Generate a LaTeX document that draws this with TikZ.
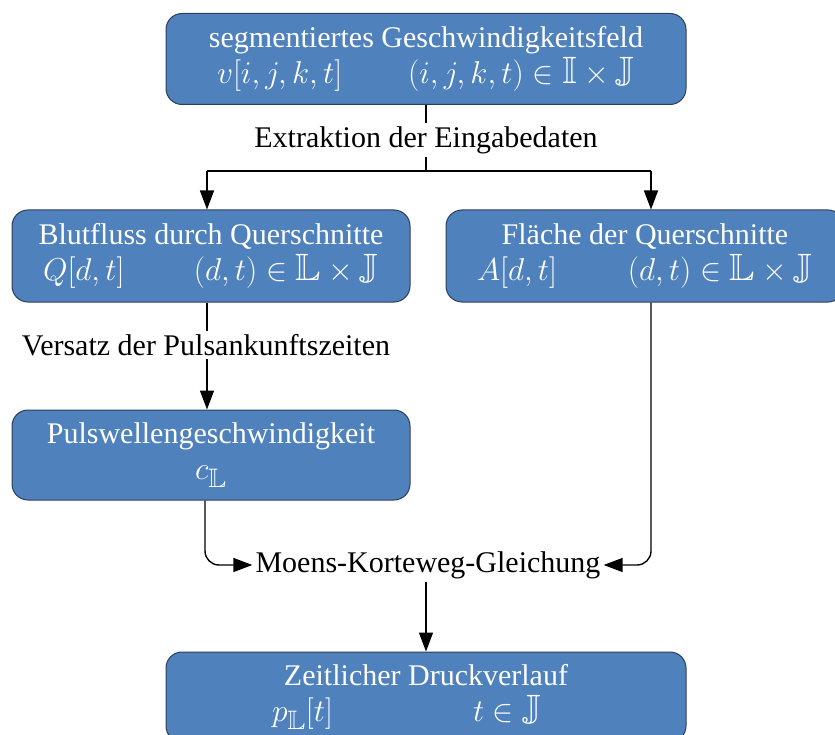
\documentclass[tikz,border=0pt]{standalone}
\usepackage{amssymb}
\usepackage{fontspec}
\setmainfont{Liberation Serif}
\usetikzlibrary{arrows.meta}
\definecolor{boxblue}{RGB}{79,129,189}
\definecolor{boxedge}{RGB}{45,62,90}
\newcommand{\bigmath}[1]{\scalebox{1.27}{$#1$}}
\begin{document}
\begin{tikzpicture}[x=1pt,y=-1pt,
  box/.style={draw=boxedge, line width=1pt, fill=boxblue, rounded corners=16pt,
    text=white, align=center, inner sep=0pt, font=\fontsize{30}{36}\selectfont},
  lbl/.style={font=\fontsize{30}{34}\selectfont, inner sep=3pt},
  conn/.style={line width=1.4pt},
  arr/.style={conn, -{Triangle[length=19pt,width=14pt]}}]
\useasboundingbox (0,0) rectangle (835,735);
\clip (0,0) rectangle (835,735);

\node[box, minimum width=520pt, minimum height=91pt] (top) at (426,59)
  {segmentiertes Geschwindigkeitsfeld\\[0pt]
   \makebox[418pt]{\bigmath{v[i,j,k,t]}\hfill\bigmath{(i,j,k,t)\in\mathbb{I}\times\mathbb{J}}}};

\node[box, minimum width=398pt, minimum height=92pt] (blut) at (211,256)
  {Blutfluss durch Querschnitte\\[0pt]
   \makebox[336pt]{\bigmath{Q[d,t]}\hfill\bigmath{(d,t)\in\mathbb{L}\times\mathbb{J}}}};

\node[box, minimum width=398pt, minimum height=92pt] (flae) at (645,256)
  {Fläche der Querschnitte\\[0pt]
   \makebox[336pt]{\bigmath{A[d,t]}\hfill\bigmath{(d,t)\in\mathbb{L}\times\mathbb{J}}}};

\node[box, minimum width=398pt, minimum height=90pt] (puls) at (211,455)
  {Pulswellengeschwindigkeit\\[0pt]
   \bigmath{c_{\mathbb{L}}}};

\node[box, minimum width=520pt, minimum height=90pt] (druck) at (426,697)
  {Zeitlicher Druckverlauf\\[0pt]
   \makebox[308pt][l]{\makebox[201pt][l]{\bigmath{p_{\mathbb{L}}[t]}}\bigmath{t\in\mathbb{J}}}};

\node[lbl] (extr) at (426,140) {Extraktion der Eingabedaten};
\node[lbl] (vers) at (206,345) {Versatz der Pulsankunftszeiten};
\node[lbl] (moens) at (428,565) {Moens-Korteweg-Gleichung};

\coordinate (split) at (426,171);
\coordinate (bl) at (207,171);
\coordinate (br) at (651,171);

\draw[conn] (top.south -| split) -- (extr.north -| split);
\draw[conn] (extr.south -| split) -- (split);
\draw[conn] (bl) -- (br);
\draw[arr] (bl) -- (bl |- blut.north);
\draw[arr] (br) -- (br |- flae.north);

\draw[conn] (blut.south -| bl) -- (vers.north -| bl);
\draw[arr] (vers.south -| bl) -- (bl |- puls.north);

\draw[arr, rounded corners=14pt] (puls.south -| 205,0) |- (moens.west);
\draw[arr, rounded corners=14pt] (flae.south -| br) |- (moens.east);
\draw[arr] (moens.south -| split) -- (split |- druck.north);
\end{tikzpicture}
\end{document}
